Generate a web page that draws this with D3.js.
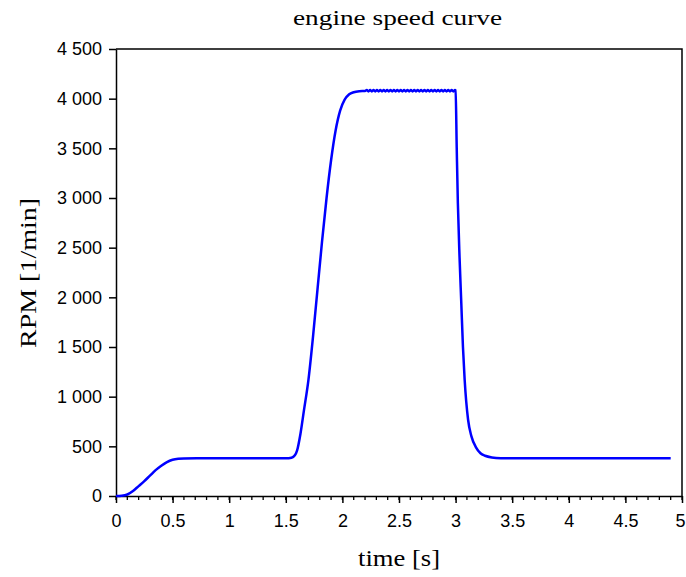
<!DOCTYPE html>
<html><head><meta charset="utf-8">
<script src="https://cdn.jsdelivr.net/npm/d3@7"></script>
<style>body{margin:0;background:#fff}</style>
</head><body>
<svg id="c" width="686" height="577"></svg>
<script>
// time [s]
const startTimes = [0,0.05,0.1,0.15,0.2,0.25,0.3,0.35,0.4,0.45,0.5,0.55,0.6,0.8,1.0,1.2,1.4,1.5];
const startRpm   = [0,3,15,50,100,150,205,260,305,342,365,375,378,379,379,379,379,380];
const riseTimes = [1.55,1.58,1.6,1.63,1.66,1.7,1.74,1.78,1.82,1.86,1.9,1.94,1.98,2.02,2.06,2.1,2.15,2.2];
const riseRpm   = [386,410,460,630,860,1170,1600,2080,2560,3000,3380,3680,3880,3990,4045,4065,4075,4078];
const plateauTimes = [2.215,2.23,2.245,2.26,2.275,2.29,2.305,2.32,2.335,2.35,2.365,2.38,2.395,2.41,2.425,2.44,2.455,2.47,2.485,2.5,2.515,2.53,2.545,2.56,2.575,2.59,2.605,2.62,2.635,2.65,2.665,2.68,2.695,2.71,2.725,2.74,2.755,2.77,2.785,2.8,2.815,2.83,2.845,2.86,2.875,2.89,2.905,2.92,2.935,2.95,2.965,2.98,2.995];
const plateauRpm = [4086,4072,4086,4072,4086,4072,4086,4072,4086,4072,4086,4072,4086,4072,4086,4072,4086,4072,4086,4072,4086,4072,4086,4072,4086,4072,4086,4072,4086,4072,4086,4072,4086,4072,4086,4072,4086,4072,4086,4072,4086,4072,4086,4072,4086,4072,4086,4072,4086,4072,4086,4072,4086];
const fallTimes = [3.0,3.01,3.02,3.035,3.05,3.065,3.08,3.11,3.14,3.18,3.22,3.26,3.32,3.4,3.6,4.0,4.5,4.9];
const fallRpm   = [4084,3500,2950,2400,1950,1500,1170,770,600,490,430,405,388,381,379,379,379,379];

const xTicks = [0,0.5,1,1.5,2,2.5,3,3.5,4,4.5,5];
const xTickLabels = ["0","0.5","1","1.5","2","2.5","3","3.5","4","4.5","5"];
const yTicks = [0,500,1000,1500,2000,2500,3000,3500,4000,4500];
const yTickLabels = ["0","500","1 000","1 500","2 000","2 500","3 000","3 500","4 000","4 500"];
const title = "engine speed curve";
const xLabel = "time [s]";
const yLabel = "RPM [1/min]";

const times = [...startTimes, ...riseTimes, ...plateauTimes, ...fallTimes];
const rpms = [...startRpm, ...riseRpm, ...plateauRpm, ...fallRpm];
const data = times.map((t,i)=>({t, r: rpms[i]}));

const L=116, R=682, T=49, B=496;
const svg = d3.select("#c");
const x = d3.scaleLinear().domain([0,5]).range([L,R]);
const y = d3.scaleLinear().domain([0,4500]).range([B,T]);

// frame (top/right)
svg.append("path").attr("d",`M${L},${T}H${R}V${B}`).attr("fill","none").attr("stroke","#000").attr("stroke-width",1.5);

// minor x ticks
const minor = d3.range(0,51).map(i=>i/10);
svg.append("g").selectAll("line").data(minor).join("line")
  .attr("x1",d=>x(d)).attr("x2",d=>x(d)).attr("y1",B).attr("y2",B+4)
  .attr("stroke","#000").attr("stroke-width",1.3);

const xAxis = svg.append("g").attr("transform",`translate(0,${B})`)
  .call(d3.axisBottom(x).tickValues(xTicks).tickFormat((d,i)=>xTickLabels[i]).tickSize(7).tickPadding(11).tickSizeOuter(0));
const yAxis = svg.append("g").attr("transform",`translate(${L},0)`)
  .call(d3.axisLeft(y).tickValues(yTicks).tickFormat((d,i)=>yTickLabels[i]).tickSize(7).tickPadding(7).tickSizeOuter(0));
[xAxis,yAxis].forEach(g=>{
  g.selectAll("path,line").attr("stroke","#000").attr("stroke-width",1.5);
  g.selectAll("text").attr("font-family","Liberation Sans, Arial, sans-serif").attr("font-size",18).attr("fill","#000");
});
xAxis.selectAll(".tick text").filter((d)=>d===5).attr("dx",-2);

svg.append("path").datum(data)
  .attr("d", d3.line().x(d=>x(d.t)).y(d=>y(d.r)).curve(d3.curveMonotoneX))
  .attr("fill","none").attr("stroke","#0000ff").attr("stroke-width",2.5);

const serif = "Liberation Serif, 'DejaVu Serif', serif";
svg.append("text").attr("x",397.5).attr("y",25).attr("text-anchor","middle")
  .attr("font-family",serif).attr("font-size",22)
  .attr("textLength",209).attr("lengthAdjust","spacingAndGlyphs").text(title);
svg.append("text").attr("x",399).attr("y",566).attr("text-anchor","middle")
  .attr("font-family",serif).attr("font-size",23)
  .attr("textLength",82).attr("lengthAdjust","spacingAndGlyphs").text(xLabel);
svg.append("text").attr("transform",`translate(36,273) rotate(-90)`).attr("text-anchor","middle")
  .attr("font-family",serif).attr("font-size",23)
  .attr("textLength",150).attr("lengthAdjust","spacingAndGlyphs").text(yLabel);
</script>
</body></html>
